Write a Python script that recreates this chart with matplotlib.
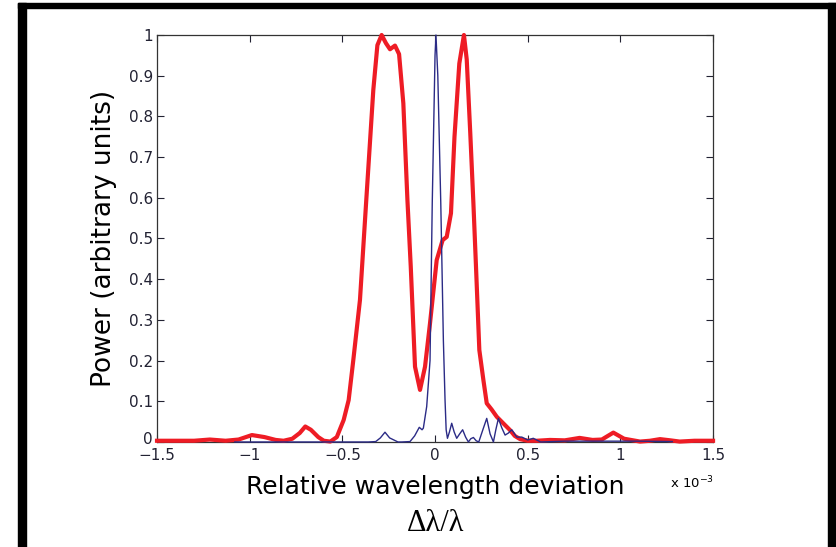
import matplotlib

matplotlib.use("Agg")

import matplotlib.pyplot as plt
import matplotlib.transforms as mtransforms
from matplotlib.patches import Rectangle

# spectra, x in units of 1e-3
red_x = [-1.5, -1.4, -1.3, -1.215, -1.13, -1.06, -0.988, -0.92, -0.86, -0.817, -0.77, -0.73,
         -0.70, -0.67, -0.63, -0.6, -0.565, -0.53, -0.493, -0.466, -0.441, -0.405, -0.372,
         -0.333, -0.311, -0.288, -0.265, -0.243, -0.216, -0.194, -0.171, -0.149, -0.131,
         -0.108, -0.081, -0.054, -0.027, 0.009, 0.041, 0.063, 0.086, 0.105, 0.131, 0.156,
         0.171, 0.19, 0.207, 0.221, 0.239, 0.261, 0.279, 0.305, 0.333, 0.37, 0.405, 0.43,
         0.459, 0.5, 0.549, 0.62, 0.7, 0.78, 0.85, 0.9, 0.962, 1.02, 1.106, 1.16, 1.214,
         1.27, 1.32, 1.4, 1.5]
red_y = [0.003, 0.003, 0.003, 0.006, 0.003, 0.006, 0.017, 0.012, 0.005, 0.003, 0.008, 0.022,
         0.038, 0.03, 0.012, 0.003, 0.001, 0.012, 0.054, 0.103, 0.201, 0.349, 0.587,
         0.865, 0.975, 1.0, 0.98, 0.965, 0.974, 0.953, 0.832, 0.595, 0.431,
         0.185, 0.128, 0.185, 0.292, 0.447, 0.496, 0.504, 0.562, 0.75, 0.93, 1.0,
         0.94, 0.76, 0.587, 0.431, 0.226, 0.152, 0.095, 0.08, 0.062, 0.045, 0.029, 0.015,
         0.007, 0.003, 0.003, 0.005, 0.004, 0.01, 0.005, 0.006, 0.023, 0.008, 0.001, 0.003,
         0.007, 0.004, 0.001, 0.003, 0.003]

blue_x = [-1.08, -0.6, -0.36, -0.32, -0.295, -0.27, -0.245, -0.2, -0.18, -0.135, -0.11,
          -0.085, -0.07, -0.063, -0.045, -0.027, -0.015, 0.0, 0.005, 0.015, 0.031, 0.045,
          0.054, 0.06, 0.067, 0.078, 0.09, 0.103, 0.117, 0.133, 0.149, 0.165, 0.18, 0.193,
          0.207, 0.222, 0.236, 0.258, 0.279, 0.297, 0.315, 0.328, 0.342, 0.36, 0.378, 0.396,
          0.414, 0.441, 0.468, 0.5, 0.53, 0.57, 0.7, 0.9, 1.1, 1.28]
blue_y = [0, 0, 0, 0.001, 0.01, 0.024, 0.01, 0.0, 0.0, 0.001, 0.015,
          0.036, 0.03, 0.034, 0.087, 0.2, 0.587, 0.95, 1.0, 0.9, 0.587, 0.25,
          0.103, 0.03, 0.009, 0.025, 0.046, 0.025, 0.009, 0.02, 0.03, 0.012, 0.0, 0.008,
          0.011, 0.003, 0.0, 0.03, 0.058, 0.02, 0.0, 0.03, 0.058, 0.035, 0.017, 0.022,
          0.03, 0.012, 0.012, 0.005, 0.009, 0.0, 0.002, 0.002, 0.002, 0.001]

x_ticks = [-1.5, -1, -0.5, 0, 0.5, 1, 1.5]
x_labels = ["\u22121.5", "\u22121", "\u22120.5", "0", "0.5", "1", "1.5"]
y_ticks = [0, 0.1, 0.2, 0.3, 0.4, 0.5, 0.6, 0.7, 0.8, 0.9, 1]
y_labels = ["0", "0.1", "0.2", "0.3", "0.4", "0.5", "0.6", "0.7", "0.8", "0.9", "1"]

fig = plt.figure(figsize=(8.37, 5.47), dpi=100)
ax = fig.add_axes([0.1876, 0.192, 0.6643, 0.744])

ax.plot(red_x, red_y, color="#ee1c25", linewidth=3.0, clip_on=False, zorder=3)
ax.plot(blue_x, blue_y, color="#2b2b86", linewidth=1.0, clip_on=False, zorder=4)

ax.set_xlim(-1.5, 1.5)
ax.set_ylim(0, 1)
ax.set_xticks(x_ticks)
ax.set_xticklabels(x_labels)
ax.set_yticks(y_ticks)
ax.set_yticklabels(y_labels)
ax.tick_params(direction="in", length=5, width=0.8, top=True, right=True,
               labelsize=11, colors="#222233", pad=3)
ax.tick_params(axis="x", pad=4)
for s in ax.spines.values():
    s.set_color("#333333")
    s.set_linewidth(0.9)

# nudge the bottom "0" up a little so it sits just above "-1.5"
zero_lbl = ax.get_yticklabels()[0]
zero_lbl.set_transform(zero_lbl.get_transform()
                       + mtransforms.ScaledTranslation(0, 3 / 72, fig.dpi_scale_trans))

ax.set_ylabel("Power (arbitrary units)", fontsize=19, labelpad=8)
ax.set_xlabel("Relative wavelength deviation", fontsize=18, labelpad=9)
fig.text(0.52, 0.043, "\u0394\u03bb/\u03bb", fontsize=22, family="Liberation Serif",
         ha="center", va="center")
fig.text(0.80, 0.117, "x 10$^{-3}$", fontsize=9.5, ha="left", va="center")

# black frame around the page
for (x0, y0, w, h) in [(18, 0, 8, 544), (18, 539, 818, 5), (828, 0, 8, 544)]:
    fig.patches.append(Rectangle((x0 / 837, y0 / 547), w / 837, h / 547,
                                 transform=fig.transFigure, color="black"))

fig.savefig("out.png", dpi=100)
plt.close(fig)
